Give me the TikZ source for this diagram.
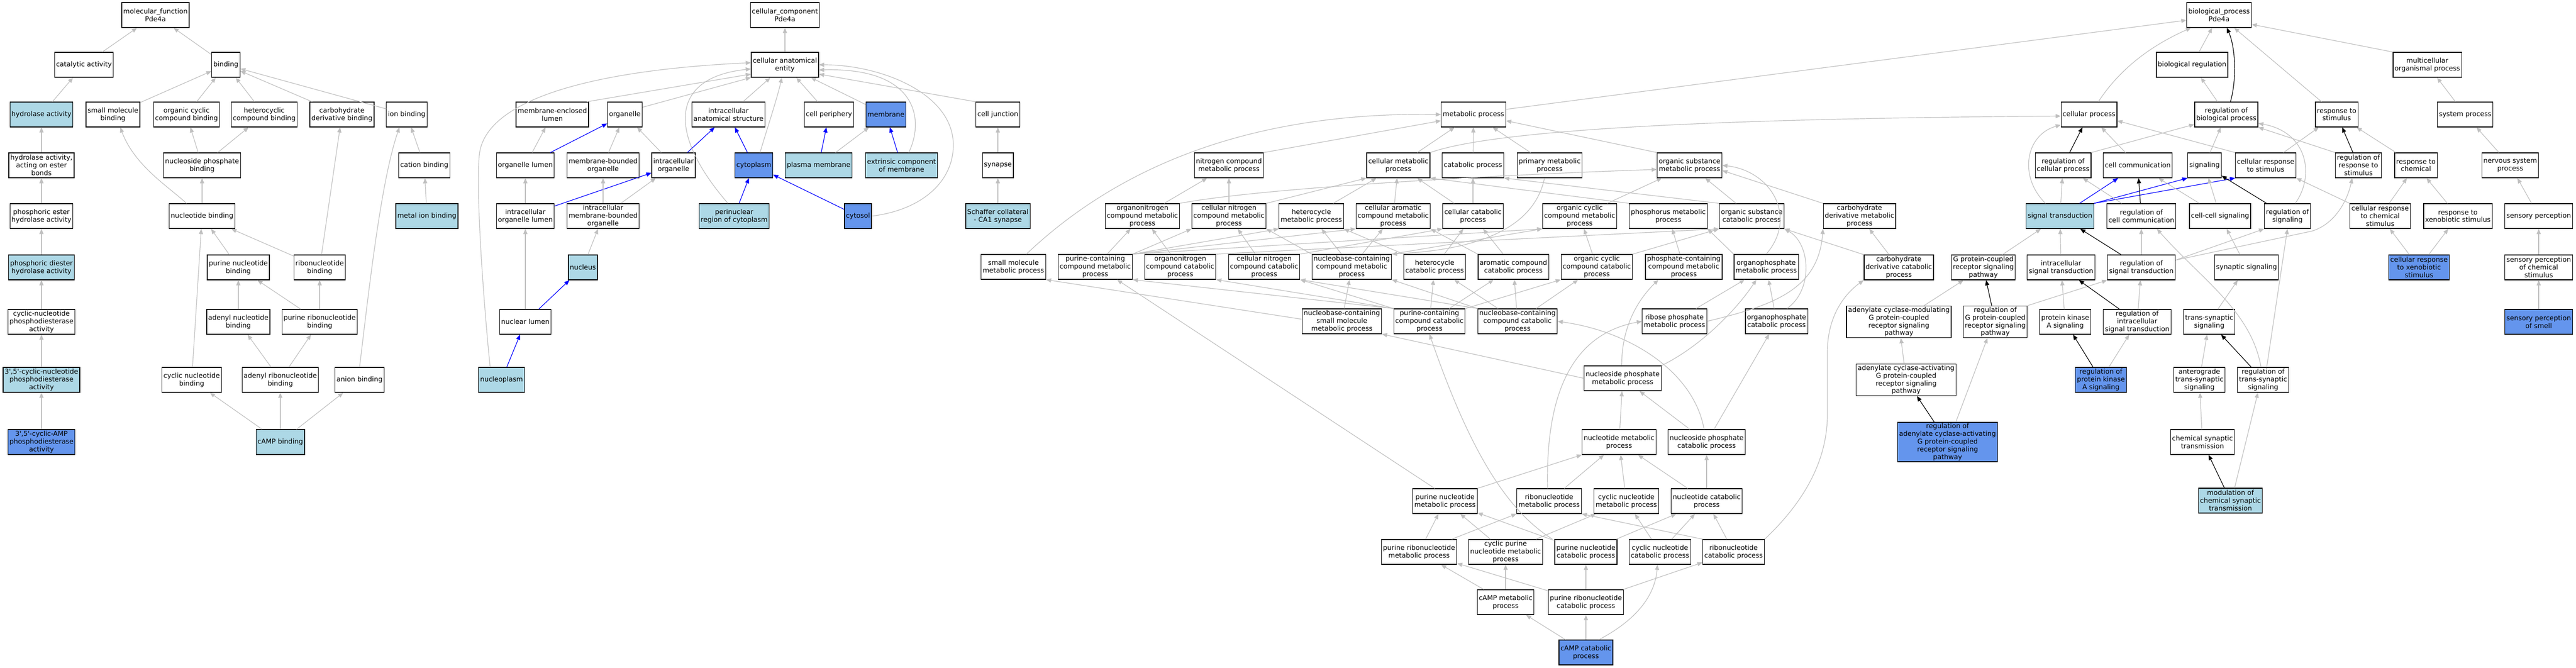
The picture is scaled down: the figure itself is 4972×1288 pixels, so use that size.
\documentclass[tikz,border=0pt]{standalone}
\usepackage{fontspec}
\setmainfont{DejaVu Sans}
\usetikzlibrary{arrows.meta}
\definecolor{lb}{RGB}{173,216,230}
\definecolor{cb}{RGB}{100,149,237}
\definecolor{eg}{RGB}{192,192,192}
\newcommand\gofont{\fontsize{13}{14.9}\selectfont}
\tikzset{
  term/.style={draw, line width=1.3pt, fill=white, align=center, minimum height=48pt,
    inner xsep=3pt, inner ysep=2pt, font=\gofont},
  lbterm/.style={term, fill=lb},
  cbterm/.style={term, fill=cb},
  isa/.style={draw=eg, line width=1.2pt, -{Triangle[length=10pt,width=8pt]}},
  partof/.style={isa, draw=blue},
  regby/.style={isa, draw=black}
}

\begin{document}
\begin{tikzpicture}[x=1pt,y=-1pt]
\useasboundingbox (0,0) rectangle (4972,1288);
\fill[white] (0,0) rectangle (4972,1288);

% molecular function
\node[term] (mf) at (300,29) {molecular\_function\\Pde4a};
\node[term] (cat) at (162,125) {catalytic activity};
\node[term] (bind) at (436,125) {binding};
\node[lbterm] (hyd) at (80,221) {hydrolase activity};
\node[term] (smb) at (218,221) {small molecule\\binding};
\node[term] (occb) at (360,221) {organic cyclic\\compound binding};
\node[term] (hccb) at (510,221) {heterocyclic\\compound binding};
\node[term] (cdb) at (660,221) {carbohydrate\\derivative binding};
\node[term] (ionb) at (785,221) {ion binding};
\node[term] (hae) at (80,319) {hydrolase activity,\\acting on ester\\bonds};
\node[term] (npb) at (390,319) {nucleoside phosphate\\binding};
\node[term] (catb) at (819,319) {cation binding};
\node[term] (peh) at (80,417) {phosphoric ester\\hydrolase activity};
\node[term] (nb) at (390,417) {nucleotide binding};
\node[lbterm] (mib) at (824,417) {metal ion binding};
\node[lbterm] (pdh) at (80,516) {phosphoric diester\\hydrolase activity};
\node[term] (pnb) at (460,516) {purine nucleotide\\binding};
\node[term] (rnb) at (617,516) {ribonucleotide\\binding};
\node[term] (cnpde) at (80,621) {cyclic-nucleotide\\phosphodiesterase\\activity};
\node[term] (anb) at (460,621) {adenyl nucleotide\\binding};
\node[term] (prnb) at (617,621) {purine ribonucleotide\\binding};
\node[lbterm] (tcnpde) at (80,733) {3\textquotesingle,5\textquotesingle-cyclic-nucleotide\\phosphodiesterase\\activity};
\node[term] (cnb) at (370,733) {cyclic nucleotide\\binding};
\node[term] (arnb) at (541,733) {adenyl ribonucleotide\\binding};
\node[term] (anionb) at (694,733) {anion binding};
\node[cbterm] (camppde) at (80,853) {3\textquotesingle,5\textquotesingle-cyclic-AMP\\phosphodiesterase\\activity};
\node[lbterm] (campb) at (541,853) {cAMP binding};

% cellular component
\node[term] (cc) at (1515,29) {cellular\_component\\Pde4a};
\node[term] (cae) at (1515,125) {cellular anatomical\\entity};
\node[term] (mel) at (1066,221) {membrane-enclosed\\lumen};
\node[term] (org) at (1206,221) {organelle};
\node[term] (ias) at (1406,221) {intracellular\\anatomical structure};
\node[term] (cper) at (1600,221) {cell periphery};
\node[cbterm] (memb) at (1710,221) {membrane};
\node[term] (cj) at (1926,221) {cell junction};
\node[term] (orgl) at (1014,319) {organelle lumen};
\node[term] (mbo) at (1164,319) {membrane-bounded\\organelle};
\node[term] (io) at (1300,319) {intracellular\\organelle};
\node[cbterm] (cyto) at (1455,319) {cytoplasm};
\node[lbterm] (pm) at (1580,319) {plasma membrane};
\node[lbterm] (ecm) at (1740,319) {extrinsic component\\of membrane};
\node[term] (syn) at (1926,319) {synapse};
\node[term] (iol) at (1014,417) {intracellular\\organelle lumen};
\node[term] (imbo) at (1164,417) {intracellular\\membrane-bounded\\organelle};
\node[lbterm] (prc) at (1417,417) {perinuclear\\region of cytoplasm};
\node[cbterm] (cytosol) at (1656,417) {cytosol};
\node[lbterm] (scs) at (1926,417) {Schaffer collateral\\- CA1 synapse};
\node[lbterm] (nuc) at (1125,516) {nucleus};
\node[term] (nl) at (1014,621) {nuclear lumen};
\node[lbterm] (np) at (968,733) {nucleoplasm};

% biological process
\node[term] (bp) at (4283,29) {biological\_process\\Pde4a};
\node[term] (breg) at (4231,125) {biological regulation};
\node[term] (mop) at (4685,125) {multicellular\\organismal process};
\node[term] (mp) at (2844,221) {metabolic process};
\node[term] (cp) at (4032,221) {cellular process};
\node[term] (rbp) at (4297,221) {regulation of\\biological process};
\node[term] (rs) at (4510,221) {response to\\stimulus};
\node[term] (sp) at (4758,221) {system process};
\node[term] (ncm) at (2372,319) {nitrogen compound\\metabolic process};
\node[term] (cmp) at (2699,319) {cellular metabolic\\process};
\node[term] (catp) at (2843,319) {catabolic process};
\node[term] (pmp) at (2991,319) {primary metabolic\\process};
\node[term] (osmp) at (3261,319) {organic substance\\metabolic process};
\node[term] (rcp) at (3982,319) {regulation of\\cellular process};
\node[term] (ccom) at (4126,319) {cell communication};
\node[term] (sig) at (4255,319) {signaling};
\node[term] (crs) at (4373,319) {cellular response\\to stimulus};
\node[term] (rrs) at (4552,319) {regulation of\\response to\\stimulus};
\node[term] (rchem) at (4663,319) {response to\\chemical};
\node[term] (nsp) at (4845,319) {nervous system\\process};
\node[term] (onmp) at (2205,417) {organonitrogen\\compound metabolic\\process};
\node[term] (cncmp) at (2372,417) {cellular nitrogen\\compound metabolic\\process};
\node[term] (hmp) at (2531,417) {heterocycle\\metabolic process};
\node[term] (camp) at (2689,417) {cellular aromatic\\compound metabolic\\process};
\node[term] (ccp) at (2843,417) {cellular catabolic\\process};
\node[term] (ocmp) at (3049,417) {organic cyclic\\compound metabolic\\process};
\node[term] (phmp) at (3220,417) {phosphorus metabolic\\process};
\node[term] (oscp) at (3381,417) {organic substance\\catabolic process};
\node[term] (cdmp) at (3589,417) {carbohydrate\\derivative metabolic\\process};
\node[lbterm] (st) at (3976,417) {signal transduction};
\node[term] (rcc) at (4133,417) {regulation of\\cell communication};
\node[term] (ccs) at (4285,417) {cell-cell signaling};
\node[term] (rsig) at (4415,417) {regulation of\\signaling};
\node[term] (crcs) at (4594,417) {cellular response\\to chemical\\stimulus};
\node[term] (rxs) at (4744,417) {response to\\xenobiotic stimulus};
\node[term] (senp) at (4900,417) {sensory perception};
\node[term] (smmp) at (1956,515) {small molecule\\metabolic process};
\node[term] (pccmp) at (2114,515) {purine-containing\\compound metabolic\\process};
\node[term] (oncp) at (2278,515) {organonitrogen\\compound catabolic\\process};
\node[term] (cncp) at (2440,515) {cellular nitrogen\\compound catabolic\\process};
\node[term] (nbcmp) at (2609,515) {nucleobase-containing\\compound metabolic\\process};
\node[term] (hcp) at (2769,515) {heterocycle\\catabolic process};
\node[term] (acp) at (2921,515) {aromatic compound\\catabolic process};
\node[term] (occp) at (3082,515) {organic cyclic\\compound catabolic\\process};
\node[term] (pcmp) at (3250,515) {phosphate-containing\\compound metabolic\\process};
\node[term] (opmp) at (3409,515) {organophosphate\\metabolic process};
\node[term] (cdcp) at (3665,516) {carbohydrate\\derivative catabolic\\process};
\node[term] (gpcr) at (3828,516) {G protein-coupled\\receptor signaling\\pathway};
\node[term] (ist) at (3978,516) {intracellular\\signal transduction};
\node[term] (rst) at (4133,516) {regulation of\\signal transduction};
\node[term] (synsig) at (4336,516) {synaptic signaling};
\node[cbterm] (crxs) at (4669,516) {cellular response\\to xenobiotic\\stimulus};
\node[term] (spcs) at (4900,516) {sensory perception\\of chemical\\stimulus};
\node[term] (ncsm) at (2590,620) {nucleobase-containing\\small molecule\\metabolic process};
\node[term] (pcccp) at (2759,620) {purine-containing\\compound catabolic\\process};
\node[term] (ncccp) at (2929,620) {nucleobase-containing\\compound catabolic\\process};
\node[term] (rpmp) at (3232,620) {ribose phosphate\\metabolic process};
\node[term] (opcp) at (3429,620) {organophosphate\\catabolic process};
\node[term] (acm) at (3665,621) {adenylate cyclase-modulating\\G protein-coupled\\receptor signaling\\pathway};
\node[term] (rgpcr) at (3851,621) {regulation of\\G protein-coupled\\receptor signaling\\pathway};
\node[term] (pka) at (3986,621) {protein kinase\\A signaling};
\node[term] (ript) at (4125,621) {regulation of\\intracellular\\signal transduction};
\node[term] (tss) at (4264,621) {trans-synaptic\\signaling};
\node[cbterm] (sps) at (4900,621) {sensory perception\\of smell};
\node[term] (npmp) at (3132,730) {nucleoside phosphate\\metabolic process};
\node[term] (aca) at (3679,733) {adenylate cyclase-activating\\G protein-coupled\\receptor signaling\\pathway};
\node[cbterm] (rpka) at (4055,733) {regulation of\\protein kinase\\A signaling};
\node[term] (atss) at (4245,733) {anterograde\\trans-synaptic\\signaling};
\node[term] (rtss) at (4368,733) {regulation of\\trans-synaptic\\signaling};
\node[term] (nucmp) at (3125,853) {nucleotide metabolic\\process};
\node[term] (npcp) at (3294,853) {nucleoside phosphate\\catabolic process};
\node[cbterm] (raca) at (3759,853) {regulation of\\adenylate cyclase-activating\\G protein-coupled\\receptor signaling\\pathway};
\node[term] (cst) at (4251,853) {chemical synaptic\\transmission};
\node[term] (pnmp) at (2789,967) {purine nucleotide\\metabolic process};
\node[term] (rnmp) at (2990,967) {ribonucleotide\\metabolic process};
\node[term] (cnmp) at (3139,967) {cyclic nucleotide\\metabolic process};
\node[term] (nuccp) at (3294,967) {nucleotide catabolic\\process};
\node[lbterm] (mcst) at (4305,966) {modulation of\\chemical synaptic\\transmission};
\node[term] (prnmp) at (2739,1065) {purine ribonucleotide\\metabolic process};
\node[term] (cpnmp) at (2906,1065) {cyclic purine\\nucleotide metabolic\\process};
\node[term] (pncp) at (3061,1065) {purine nucleotide\\catabolic process};
\node[term] (cncatp) at (3204,1065) {cyclic nucleotide\\catabolic process};
\node[term] (rncp) at (3346,1065) {ribonucleotide\\catabolic process};
\node[term] (campm) at (2906,1162) {cAMP metabolic\\process};
\node[term] (prncp) at (3061,1162) {purine ribonucleotide\\catabolic process};
\node[cbterm] (campc) at (3061,1259) {cAMP catabolic\\process};

% molecular function edges
\draw[isa] (cat) -- (mf); \draw[isa] (bind) -- (mf); \draw[isa] (hyd) -- (cat);
\draw[isa] (smb) -- (bind); \draw[isa] (occb) -- (bind); \draw[isa] (hccb) -- (bind);
\draw[isa] (cdb) -- (bind); \draw[isa] (ionb) -- (bind);
\draw[isa] (hae) -- (hyd); \draw[isa] (npb) -- (occb); \draw[isa] (npb) -- (hccb); \draw[isa] (catb) -- (ionb);
\draw[isa] (peh) -- (hae); \draw[isa] (nb) -- (npb); \draw[isa] (mib) -- (catb);
\draw[isa] ([xshift=-30pt]nb.north) .. controls (325,360) and (260,320) .. ([xshift=14pt]smb.south);
\draw[isa] (pdh) -- (peh); \draw[isa] (pnb) -- (nb); \draw[isa] (rnb) -- (nb); \draw[isa] (rnb) -- (cdb);
\draw[isa] (cnpde) -- (pdh); \draw[isa] (anb) -- (pnb); \draw[isa] (prnb) -- (pnb); \draw[isa] (prnb) -- (rnb);
\draw[isa] (tcnpde) -- (cnpde); \draw[isa] (cnb) -- (nb); \draw[isa] (arnb) -- (anb); \draw[isa] (arnb) -- (prnb);
\draw[isa] (anionb.north) .. controls (712,560) and (735,350) .. ([xshift=-14pt]ionb.south);
\draw[isa] (camppde) -- (tcnpde);
\draw[isa] (campb) -- (cnb); \draw[isa] (campb) -- (arnb); \draw[isa] (campb) -- (anionb);

% cellular component edges
\draw[isa] (cae) -- (cc);
\draw[isa] ([xshift=-4pt]mel.north east) -- ([yshift=-18pt]cae.west);
\draw[isa] ([yshift=14pt]org.east) -- (cae.south west);
\draw[isa] (ias) -- (cae); \draw[isa] (cper) -- (cae); \draw[isa] (memb) -- (cae);
\draw[isa] (cj.north west) -- ([yshift=-18pt]cae.east);
\draw[isa] (orgl) -- (mel); \draw[partof] (orgl) -- (org);
\draw[isa] (mbo) -- (org); \draw[isa] (io) -- (org); \draw[partof] (io) -- (ias);
\draw[partof] (cyto) -- (ias);
\draw[isa] ([xshift=12pt]cyto.north) .. controls (1480,250) and (1500,190) .. ([xshift=-6pt]cae.south);
\draw[partof] (pm) -- (cper); \draw[isa] (pm) -- (memb); \draw[partof] (ecm) -- (memb);
\draw[isa] ([xshift=14pt]ecm.north) .. controls (1785,230) and (1770,130) .. ([yshift=-10pt]cae.east);
\draw[isa] (syn) -- (cj); \draw[isa] (scs) -- (syn);
\draw[isa] (iol) -- (orgl); \draw[partof] (iol) -- (io);
\draw[isa] (imbo) -- (mbo); \draw[isa] (imbo) -- (io);
\draw[partof] (prc) -- (cyto);
\draw[isa] ([xshift=-12pt]prc.north) .. controls (1290,260) and (1290,150) .. ([yshift=-8pt]cae.west);
\draw[partof] (cytosol) -- (cyto);
\draw[isa] (cytosol.east) .. controls (1780,405) and (1840,350) .. (1840,280)
  .. controls (1840,180) and (1700,125) .. (cae.east);
\draw[isa] (nuc) -- (imbo);
\draw[isa] (nl) -- (iol); \draw[partof] (nl) -- (nuc);
\draw[partof] (np) -- (nl);
\draw[isa] ([xshift=-22pt]np.north) .. controls (935,600) and (918,380) .. (925,300)
  .. controls (935,190) and (1150,135) .. ([yshift=4pt]cae.west);

% biological process edges, top
\draw[isa] ([yshift=10pt]mp.east) -- ([yshift=-10pt]bp.west);
\draw[isa] ([xshift=18pt]cp.north) .. controls (4100,120) and (4170,80) .. ([xshift=-54pt]bp.south);
\draw[isa] (breg) -- (bp);
\draw[regby] ([xshift=8pt]rbp.north) .. controls (4318,150) and (4314,90) .. ([xshift=15pt]bp.south);
\draw[isa] (rs) -- (bp); \draw[isa] (mop.north west) -- ([yshift=-18pt]bp.east);
\draw[isa] (rbp) -- (breg); \draw[isa] (sp) -- (mop); \draw[isa] (nsp) -- (sp);
\draw[regby] (rcp) -- (cp); \draw[isa] (rcp.north east) -- ([yshift=-19pt]rbp.west);
\draw[isa] (ccom) -- (cp); \draw[isa] (sig) -- (rbp);
\draw[isa] (crs.north west) -- ([yshift=-12pt]cp.east); \draw[isa] (crs) -- (rs);
\draw[regby] (rrs) -- (rs); \draw[isa] (rrs.north west) -- (rbp.south east);
\draw[isa] (rchem) -- (rs);
\draw[isa] ([xshift=-28pt]st.north) .. controls (3895,340) and (3910,260) .. ([yshift=-20pt]cp.west);
\draw[isa] (st) -- (rcp); \draw[partof] (st) -- (ccom);
\draw[partof] (st.north east) -- (sig.south west); \draw[partof] (st.north east) -- (crs.south west);
\draw[regby] (rcc) -- (ccom); \draw[isa] (rcc) -- (rcp);
\draw[isa] (ccs) -- (ccom); \draw[isa] (ccs) -- (sig);
\draw[regby] (rsig) -- (sig);
\draw[isa] ([xshift=15pt]rsig.north) .. controls (4468,340) and (4455,255) .. ([yshift=-17pt]rbp.east);
\draw[isa] (crcs) -- (rchem); \draw[isa] (crcs.north west) -- (crs.south east);
\draw[isa] (rxs) -- (rchem); \draw[isa] (senp) -- (nsp);
\draw[isa] (crxs) -- (crcs); \draw[isa] (crxs) -- (rxs);
\draw[isa] (spcs) -- (senp); \draw[isa] (sps) -- (spcs);

% signalling edges
\draw[isa] (gpcr) -- (st); \draw[isa] (ist) -- (st); \draw[regby] (rst) -- (st);
\draw[isa] (rst) -- (rcc); \draw[isa] ([yshift=14pt]rst.east) -- (rsig.south west);
\draw[isa] ([yshift=14pt]rst.east) -- (4462,446) .. controls (4505,433) and (4530,390) .. ([xshift=-12pt]rrs.south);
\draw[isa] (synsig) -- (ccs);
\draw[isa] (acm) -- (gpcr); \draw[regby] (rgpcr) -- (gpcr); \draw[isa] (rgpcr.north east) -- (rst.south west);
\draw[isa] (pka) -- (ist); \draw[regby] (ript) -- (ist); \draw[isa] (ript) -- (rst);
\draw[isa] (tss) -- (synsig);
\draw[isa] (aca) -- (acm); \draw[regby] (rpka) -- (pka); \draw[isa] (rpka) -- (ript);
\draw[isa] (atss) -- (tss); \draw[regby] (rtss) -- (tss);
\draw[isa] ([xshift=7pt]rtss.north) -- (rsig.south);
\draw[isa] ([xshift=-4pt]rtss.north) .. controls (4345,600) and (4250,540) .. ([xshift=30pt]rcc.south);
\draw[regby] (raca) -- (aca); \draw[isa] ([xshift=16pt]raca.north) -- ([xshift=-15pt]rgpcr.south);
\draw[isa] (cst) -- (atss);
\draw[regby] (mcst) -- (cst); \draw[isa] ([xshift=8pt]mcst.north) -- ([xshift=-10pt]rtss.south);

% metabolic edges
\draw[isa] ([xshift=25pt]smmp.north) .. controls (2150,330) and (2400,215) .. (mp.west);
\draw[isa] (ncm.north east) -- ([yshift=-12pt]mp.west);
\draw[isa] (cmp) -- (mp); \draw[isa] (catp) -- (mp); \draw[isa] (pmp) -- (mp);
\draw[isa] (osmp.north west) -- ([yshift=-12pt]mp.east);
\draw[isa] (cmp.north east) .. controls (2900,245) and (3400,228) .. ([yshift=-3pt]cp.west);
\draw[isa] (onmp) -- (ncm);
\draw[isa] (onmp.north east) .. controls (2450,360) and (2950,335) .. ([yshift=-8pt]osmp.west);
\draw[isa] (cncmp) -- (ncm); \draw[isa] (cncmp.north east) -- (cmp.south west);
\draw[isa] (hmp) -- (cmp); \draw[isa] (camp) -- (cmp);
\draw[isa] (ccp) -- (cmp); \draw[isa] (ccp) -- (catp);
\draw[isa] (ocmp) -- (osmp); \draw[isa] (phmp.north west) -- (cmp.south east);
\draw[isa] (oscp.north west) -- (catp.south east); \draw[isa] (oscp) -- (osmp);
\draw[isa] (cdmp.north west) -- ([yshift=-10pt]osmp.east);
\draw[isa] (pccmp) -- (onmp); \draw[isa] (pccmp.north east) -- (cncmp.south west);
\draw[isa] (pccmp.north east) -- (hmp.south west); \draw[isa] (pccmp.north east) -- (camp.south west);
\draw[isa] (pccmp.north east) -- (ocmp.south west);
\draw[isa] (oncp) -- (onmp); \draw[isa] (oncp.north east) -- (oscp.south west);
\draw[isa] (cncp) -- (cncmp); \draw[isa] (cncp.north east) -- (ccp.south west);
\draw[isa] (nbcmp.north west) -- (cncmp.south east); \draw[isa] (nbcmp) -- (hmp);
\draw[isa] (nbcmp) -- (camp); \draw[isa] (nbcmp.north east) -- (ocmp.south west);
\draw[isa] ([xshift=-10pt]pmp.south) .. controls (2955,470) and (2780,485) .. (nbcmp.north east);
\draw[isa] (hcp.north west) -- (hmp.south east); \draw[isa] (hcp) -- (ccp);
\draw[isa] (acp.north west) -- (camp.south east); \draw[isa] (acp) -- (ccp);
\draw[isa] (occp) -- (ocmp); \draw[isa] (occp.north east) -- (oscp.south west);
\draw[isa] (pcmp) -- (phmp); \draw[isa] (opmp.north west) -- (phmp.south east);
\draw[isa] (opmp.north) .. controls (3470,420) and (3420,330) .. (osmp.east);
\draw[isa] (cdcp) -- (cdmp); \draw[isa] (cdcp.north west) -- (oscp.south east);
\draw[isa] (ncsm) -- (nbcmp); \draw[isa] ([yshift=4pt]ncsm.west) -- (smmp.south east);
\draw[isa] (pcccp.north west) -- (pccmp.south east); \draw[isa] (pcccp.north west) -- (oncp.south east);
\draw[isa] (pcccp.north west) -- (cncp.south east); \draw[isa] (pcccp) -- (hcp);
\draw[isa] (pcccp) -- (acp); \draw[isa] (pcccp.north east) -- (occp.south west);
\draw[isa] (ncccp.north west) -- (nbcmp.south east); \draw[isa] (ncccp.north west) -- (cncp.south east);
\draw[isa] (ncccp) -- (hcp); \draw[isa] (ncccp) -- (acp); \draw[isa] (ncccp) -- (occp);
\draw[isa] (rpmp) -- (opmp);
\draw[isa] (rpmp.east) .. controls (3420,590) and (3510,560) .. (cdmp.south west);
\draw[isa] (opcp) -- (opmp);
\draw[isa] ([xshift=20pt]opcp.north) .. controls (3500,560) and (3495,470) .. (oscp.south east);
\draw[isa] (npmp.north east) .. controls (3280,670) and (3350,600) .. ([xshift=-19pt]opmp.south);
\draw[isa] (npmp.west) -- (ncsm.south east);
\draw[isa] ([xshift=-2pt]npmp.north) .. controls (3130,620) and (3170,570) .. ([xshift=-49pt]pcmp.south);
\draw[isa] (nucmp) -- (npmp); \draw[isa] (npcp) -- (npmp); \draw[isa] (npcp) -- (opcp);
\draw[isa] ([xshift=-5pt]npcp.north) .. controls (3270,720) and (3150,640) .. (ncccp.east);
\draw[isa] (pnmp.north east) -- (nucmp.south west);
\draw[isa] ([xshift=-20pt]pnmp.north) -- ([xshift=42pt]pccmp.south);
\draw[isa] (rnmp) -- (nucmp);
\draw[isa] ([xshift=-3pt]rnmp.north) .. controls (2982,720) and (3060,640) .. (rpmp.west);
\draw[isa] (cnmp) -- (nucmp); \draw[isa] (nuccp) -- (nucmp); \draw[isa] (nuccp) -- (npcp);
\draw[isa] (prnmp) -- (pnmp); \draw[isa] (prnmp) -- (rnmp);
\draw[isa] (cpnmp) -- (pnmp); \draw[isa] (cpnmp) -- (cnmp);
\draw[isa] (pncp) -- (pnmp); \draw[isa] (pncp) -- (nuccp);
\draw[isa] ([xshift=-4pt]pncp.north west) .. controls (2900,980) and (2830,850) .. (pcccp.south);
\draw[isa] (cncatp) -- (cnmp); \draw[isa] (cncatp) -- (nuccp);
\draw[isa] (rncp.north west) -- (rnmp.south east); \draw[isa] (rncp) -- (nuccp);
\draw[isa] (rncp.north east) .. controls (3470,980) and (3527,900) .. (3527,800) -- (3527,680)
  .. controls (3527,600) and (3570,560) .. (cdcp.south west);
\draw[isa] (campm) -- (prnmp); \draw[isa] (campm) -- (cpnmp);
\draw[isa] (prncp) -- (prnmp); \draw[isa] (prncp) -- (pncp); \draw[isa] (prncp) -- (rncp);
\draw[isa] (campc) -- (campm); \draw[isa] (campc) -- (prncp);
\draw[isa] ([xshift=25pt]campc.north) .. controls (3170,1190) and (3195,1140) .. ([xshift=-5pt]cncatp.south);
\end{tikzpicture}
\end{document}
